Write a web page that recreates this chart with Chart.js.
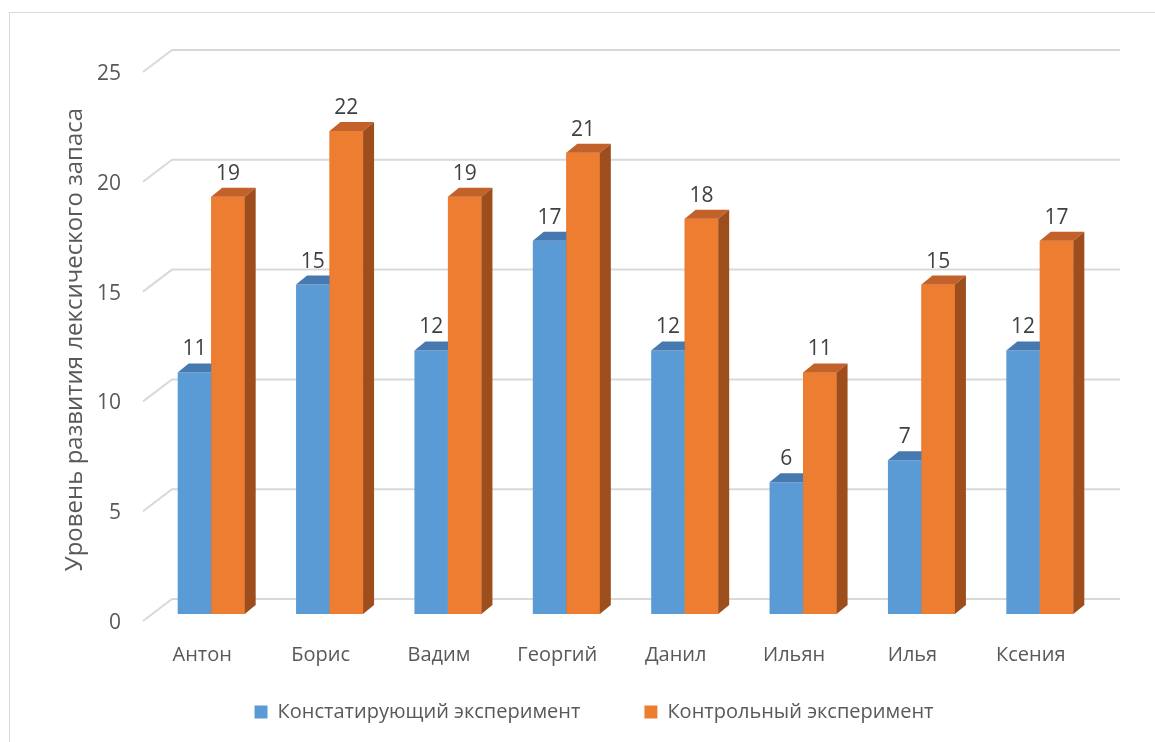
<!DOCTYPE html>
<html><head><meta charset="utf-8">
<script src="https://cdn.jsdelivr.net/npm/chart.js@4.4.1/dist/chart.umd.min.js"></script>
<style>html,body{margin:0;padding:0;background:#fff;overflow:hidden}</style>
</head><body>
<canvas id="c" width="1155" height="742"></canvas>
<script>
const categories = ['Антон','Борис','Вадим','Георгий','Данил','Ильян','Илья','Ксения'];
const seriesNames = ['Констатирующий эксперимент','Контрольный эксперимент'];
const constatValues = [11,15,12,17,12,6,7,12];
const controlValues = [19,22,19,21,18,11,15,17];
const yTickValues = [0,5,10,15,20,25];
const yAxisTitle = 'Уровень развития лексического запаса';

const FONT = "'Open Sans', sans-serif";
const TEXT = '#595959';
const faceColors = ['#5B9BD5', '#ED7D31'];
const shade = [{top:'#4679AF', side:'#3D6A98'}, {top:'#C2612A', side:'#9E4E1D'}];
const DX = 11, DY = 9;

function draw3d(ctx, bar, s) {
  const {x, y, base, width} = bar.getProps(['x', 'y', 'base', 'width'], true);
  const x0 = x - width / 2, x1 = x + width / 2;
  ctx.fillStyle = s.top;
  ctx.beginPath();
  ctx.moveTo(x0, y); ctx.lineTo(x0 + DX, y - DY); ctx.lineTo(x1 + DX, y - DY); ctx.lineTo(x1, y);
  ctx.closePath(); ctx.fill();
  ctx.fillStyle = s.side;
  ctx.beginPath();
  ctx.moveTo(x1, y); ctx.lineTo(x1 + DX, y - DY); ctx.lineTo(x1 + DX, base - DY); ctx.lineTo(x1, base);
  ctx.closePath(); ctx.fill();
}

const plugin3d = {
  id: 'p3d',
  afterLayout(chart) {
    // let the category labels extend below the (short) axis box
    const s = chart.scales.x;
    s.bottom = chart.height;
    s.height = s.bottom - s.top;
  },
  beforeDraw(chart) {
    const ctx = chart.ctx;
    ctx.save();
    ctx.fillStyle = '#fff';
    ctx.fillRect(0, 0, chart.width, chart.height);
    ctx.strokeStyle = '#D9D9D9';
    ctx.lineWidth = 1;
    ctx.strokeRect(9.5, 12.5, chart.width + 20, chart.height + 20);
    ctx.restore();
  },
  beforeDatasetsDraw(chart) {
    const {ctx, chartArea: a, scales: {y}} = chart;
    ctx.save();
    ctx.strokeStyle = '#D9D9D9';
    ctx.lineWidth = 2;
    y.ticks.forEach(t => {
      const p = y.getPixelForValue(t.value);
      ctx.beginPath();
      ctx.moveTo(a.left - 9, p + 7);
      ctx.lineTo(a.left + 20, p - 15);
      ctx.lineTo(a.right + 21, p - 15);
      ctx.stroke();
    });
    ctx.restore();
  },
  afterDatasetsDraw(chart) {
    const ctx = chart.ctx;
    ctx.save();
    const m0 = chart.getDatasetMeta(0), m1 = chart.getDatasetMeta(1);
    m0.data.forEach(bar => draw3d(ctx, bar, shade[0]));
    m1.data.forEach(bar => { bar.draw(ctx); draw3d(ctx, bar, shade[1]); });
    ctx.fillStyle = '#404040';
    ctx.font = "21px " + FONT;
    ctx.textAlign = 'center';
    ctx.textBaseline = 'middle';
    chart.data.datasets.forEach((ds, i) => {
      chart.getDatasetMeta(i).data.forEach((bar, j) => {
        const {x, y} = bar.getProps(['x', 'y'], true);
        ctx.fillText(String(ds.data[j]), x, y - 23);
      });
    });
    ctx.restore();
  }
};

new Chart(document.getElementById('c'), {
  type: 'bar',
  data: {
    labels: categories,
    datasets: [
      {label: seriesNames[0], data: constatValues, backgroundColor: faceColors[0], borderWidth: 0},
      {label: seriesNames[1], data: controlValues, backgroundColor: faceColors[1], borderWidth: 0}
    ]
  },
  options: {
    responsive: false,
    animation: false,
    devicePixelRatio: 1,
    categoryPercentage: 0.566,
    barPercentage: 1,
    layout: {padding: {left: 89, right: 56, top: 65, bottom: 10}},
    plugins: {
      tooltip: {enabled: false},
      legend: {
        position: 'bottom',
        labels: {boxWidth: 13, boxHeight: 13, padding: 64, color: TEXT, font: {family: FONT, size: 20}}
      }
    },
    scales: {
      x: {
        grid: {display: false, drawTicks: false},
        border: {display: false},
        ticks: {color: TEXT, font: {family: FONT, size: 20}, padding: 29, labelOffset: -9, maxRotation: 0, autoSkip: false},
        afterFit(s) { s.height = 24; }
      },
      y: {
        min: 0, max: 25,
        afterBuildTicks(s) { s.ticks = yTickValues.map(v => ({value: v})); },
        grid: {display: false, drawTicks: false},
        border: {display: false},
        ticks: {color: TEXT, font: {family: FONT, size: 21}, padding: 31, labelOffset: 9},
        title: {display: true, text: yAxisTitle, color: TEXT, font: {family: FONT, size: 24}, padding: {top: -28, bottom: 0}},
        afterFit(s) { s.width = 63; }
      }
    }
  },
  plugins: [plugin3d]
});
</script>
</body></html>
